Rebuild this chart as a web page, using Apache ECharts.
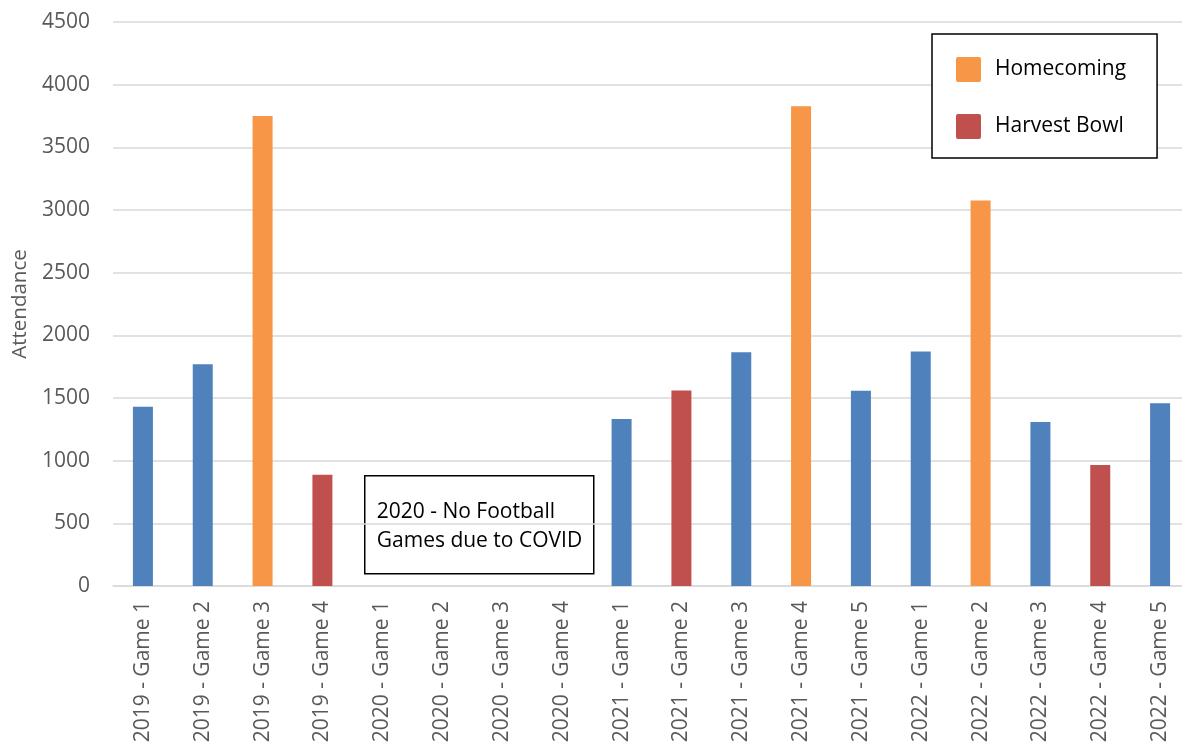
<!DOCTYPE html>
<html>
<head>
<meta charset="utf-8">
<script src="https://cdn.jsdelivr.net/npm/echarts@6/dist/echarts.min.js"></script>
<style>
html,body{margin:0;padding:0;background:#fff;}
#chart{width:1182px;height:742px;}
</style>
</head>
<body>
<div id="chart"></div>
<script>
const categories = [
  '2019 - Game 1','2019 - Game 2','2019 - Game 3','2019 - Game 4',
  '2020 - Game 1','2020 - Game 2','2020 - Game 3','2020 - Game 4',
  '2021 - Game 1','2021 - Game 2','2021 - Game 3','2021 - Game 4','2021 - Game 5',
  '2022 - Game 1','2022 - Game 2','2022 - Game 3','2022 - Game 4','2022 - Game 5'
];
const regularGames = [1431, 1769, null, null, null, null, null, null, 1332, null, 1866, null, 1557, 1871, null, 1309, null, 1458];
const homecoming   = [null, null, 3750, null, null, null, null, null, null, null, null, 3828, null, null, 3076, null, null, null];
const harvestBowl  = [null, null, null, 888, null, null, null, null, null, 1559, null, null, null, null, null, null, 966, null];
const yTicks = { min: 0, max: 4500, interval: 500 };
const noteLines = ['2020 - No Football', 'Games due to COVID'];

const FONT = '"Open Sans", "Noto Sans", sans-serif';
const chart = echarts.init(document.getElementById('chart'), null, { renderer: 'canvas' });

chart.setOption({
  animation: false,
  backgroundColor: '#ffffff',
  textStyle: { fontFamily: FONT },
  grid: { left: 113, right: -8, top: 22, bottom: 156, containLabel: false, outerBoundsMode: 'none' },
  legend: {
    data: ['Homecoming', 'Harvest Bowl'],
    orient: 'vertical',
    left: 932, top: 34,
    padding: [23, 31, 19, 24],
    borderColor: '#000', borderWidth: 1.5,
    backgroundColor: '#fff',
    itemWidth: 25, itemHeight: 25, itemGap: 32,
    icon: 'path://M2,0 L23,0 Q25,0 25,2 L25,23 Q25,25 23,25 L2,25 Q0,25 0,23 L0,2 Q0,0 2,0 Z',
    textStyle: { fontFamily: FONT, fontSize: 21, color: '#000', padding: [0, 0, 0, 9] }
  },
  xAxis: {
    type: 'category',
    data: categories,
    boundaryGap: true,
    axisLine: { show: true, lineStyle: { color: '#d9d9d9', width: 1.5 } },
    axisTick: { show: false },
    axisLabel: { rotate: 90, fontSize: 21, color: '#595959', fontFamily: FONT, margin: 15, interval: 0 }
  },
  yAxis: {
    type: 'value',
    min: yTicks.min, max: yTicks.max, interval: yTicks.interval,
    name: 'Attendance',
    nameLocation: 'middle', nameRotate: 90, nameGap: 80,
    nameTextStyle: { fontSize: 20.5, color: '#595959', fontFamily: FONT },
    axisLine: { show: false }, axisTick: { show: false },
    axisLabel: { fontSize: 21, color: '#595959', fontFamily: FONT, margin: 23, formatter: function (v) { return String(v); } },
    splitLine: { lineStyle: { color: '#d9d9d9', width: 1.5 } }
  },
  series: [
    { name: 'Regular', type: 'bar', stack: 'games', barWidth: 20, data: regularGames,
      itemStyle: { color: '#4f81bd' } },
    { name: 'Homecoming', type: 'bar', stack: 'games', barWidth: 20, data: homecoming,
      itemStyle: { color: '#f79646' } },
    { name: 'Harvest Bowl', type: 'bar', stack: 'games', barWidth: 20, data: harvestBowl,
      itemStyle: { color: '#c0504d' } }
  ],
  graphic: [{
    type: 'group', left: 364, top: 475,
    children: [
      { type: 'rect', shape: { x: 0, y: 0, width: 229, height: 98 },
        style: { fill: '#fff', stroke: '#000', lineWidth: 1.5 } },
      { type: 'text', x: 12, y: 36, style: { text: noteLines[0], font: '21px ' + FONT, fill: '#000', verticalAlign: 'middle' } },
      { type: 'text', x: 12, y: 65, style: { text: noteLines[1], font: '21px ' + FONT, fill: '#000', verticalAlign: 'middle' } }
    ]
  }]
});
</script>
</body>
</html>
